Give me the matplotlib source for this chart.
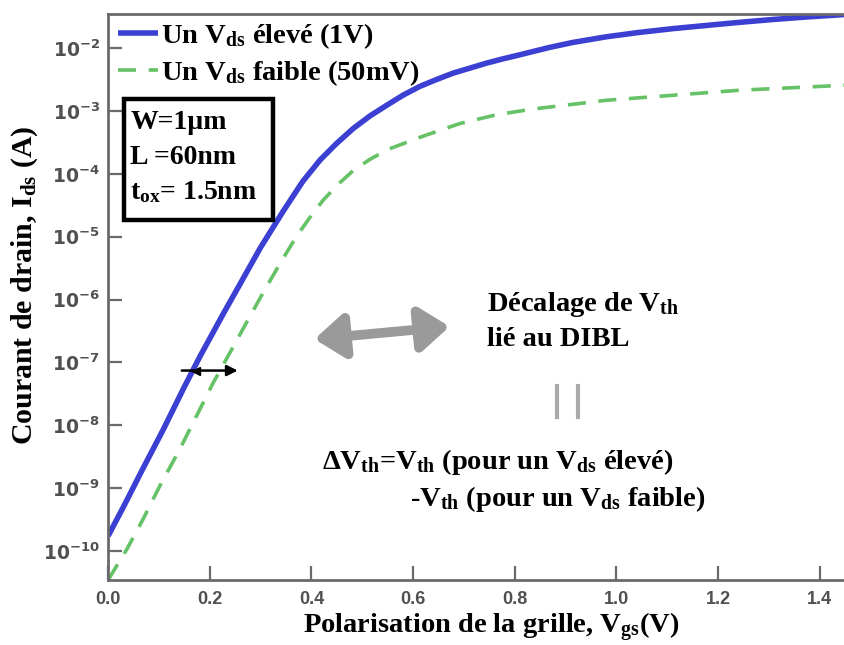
import numpy as np
import matplotlib
matplotlib.use("Agg")
import matplotlib.pyplot as plt
from matplotlib.patches import Rectangle
from matplotlib.ticker import FixedLocator, FuncFormatter

plt.rcParams['font.family'] = ['Liberation Serif', 'DejaVu Serif']
plt.rcParams['font.weight'] = 'bold'
plt.rcParams['mathtext.fontset'] = 'custom'
plt.rcParams['mathtext.rm'] = 'Liberation Serif:bold'
plt.rcParams['mathtext.it'] = 'Liberation Serif:bold'
plt.rcParams['mathtext.bf'] = 'Liberation Serif:bold'
plt.rcParams['mathtext.sf'] = 'DejaVu Sans:bold'

# Vgs (V) and log10(Ids)
vgs_high = [0.000, 0.030, 0.069, 0.109, 0.148, 0.181, 0.227, 0.266, 0.300, 0.344,
            0.383, 0.417, 0.449, 0.482, 0.515, 0.548, 0.580, 0.613, 0.646, 0.678,
            0.711, 0.744, 0.777, 0.803, 0.868, 0.914, 0.980, 1.045, 1.111, 1.176,
            1.242, 1.307, 1.373, 1.450]
log_ids_high = [-9.76, -9.30, -8.68, -8.06, -7.42, -6.90, -6.22, -5.66, -5.17, -4.60,
                -4.12, -3.78, -3.52, -3.28, -3.08, -2.91, -2.75, -2.61, -2.50, -2.40,
                -2.32, -2.24, -2.17, -2.12, -1.99, -1.91, -1.82, -1.75, -1.69, -1.64,
                -1.59, -1.545, -1.505, -1.465]

vgs_low = [0.000, 0.037, 0.069, 0.102, 0.141, 0.174, 0.207, 0.240, 0.272, 0.305,
           0.338, 0.371, 0.400, 0.423, 0.452, 0.482, 0.515, 0.551, 0.620, 0.692,
           0.764, 0.835, 0.980, 1.111, 1.242, 1.373, 1.450]
log_ids_low = [-10.46, -9.97, -9.49, -8.96, -8.38, -7.85, -7.32, -6.84, -6.37, -5.89,
               -5.43, -4.99, -4.66, -4.42, -4.17, -3.95, -3.77, -3.61, -3.40, -3.20,
               -3.06, -2.97, -2.83, -2.75, -2.67, -2.62, -2.59]

y_decades = [-10, -9, -8, -7, -6, -5, -4, -3, -2]
x_ticks = [0.0, 0.2, 0.4, 0.6, 0.8, 1.0, 1.2, 1.4]

ids_high = 10.0 ** np.array(log_ids_high)
ids_low = 10.0 ** np.array(log_ids_low)

fig = plt.figure(figsize=(8.45, 6.45), dpi=100)
ax = fig.add_axes([0.128, 0.101, 0.872, 0.877])

ax.plot(vgs_high, ids_high, color='#3c40d2', lw=4, solid_capstyle='butt',
        solid_joinstyle='round', label=r'Un V$_{\rm ds}$ élevé (1V)')
ax.plot(vgs_low, ids_low, color='#66c266', lw=2.6, dashes=(5, 3.5),
        label=r'Un V$_{\rm ds}$ faible (50mV)')

ax.set_yscale('log')
ax.set_xlim(0, 1.45)
ax.set_ylim(10 ** -10.46, 10 ** -1.46)
ax.yaxis.set_major_locator(FixedLocator([10.0 ** d for d in y_decades]))
ax.yaxis.set_minor_locator(FixedLocator([]))
ax.yaxis.set_major_formatter(FuncFormatter(
    lambda v, p: r'$\mathsf{10^{%d}}$' % round(np.log10(v))))
ax.set_xticks(x_ticks)
ax.set_xticklabels(['%.1f' % t for t in x_ticks], family='Liberation Sans',
                   fontsize=13, fontweight='bold', color='#505050')

for s in ['left', 'bottom', 'top']:
    ax.spines[s].set_color('#6a6a6a')
    ax.spines[s].set_linewidth(2)
ax.spines['right'].set_visible(False)
ax.tick_params(axis='both', direction='in', length=10, width=1.6, color='#6a6a6a',
               top=False, right=False)
ax.tick_params(axis='y', labelsize=13.5, labelcolor='#505050', pad=6)
ax.tick_params(axis='x', pad=8)

fig.text(491 / 845, 1 - 633 / 645, r'Polarisation de la grille, V$_{\rm gs}$(V)',
         fontsize=20.5, fontweight='bold', ha='center', va='baseline')
fig.text(25 / 845, 1 - 285 / 645, r'Courant de drain, I$_{\rm ds}$ (A)',
         fontsize=21.5, fontweight='bold', ha='center', va='center', rotation=90)

ax.legend(loc='upper left', bbox_to_anchor=(-0.006, 1.013), frameon=False,
          fontsize=20.5, handlelength=1.4, handletextpad=0.1, labelspacing=0.27,
          borderaxespad=0.2, borderpad=0.3)

# parameter box
ax.add_patch(Rectangle((0.0217, 0.636), 0.202, 0.214, transform=ax.transAxes,
                       fc='white', ec='black', lw=3.2, zorder=4))
box_lines = ['W=1µm', 'L =60nm', r't$_{\rm ox}$= 1.5nm']
box_y = [0.809, 0.747, 0.686]
for txt, yy in zip(box_lines, box_y):
    ax.text(0.0299, yy, txt, transform=ax.transAxes, fontsize=20,
            fontweight='bold', ha='left', va='center', zorder=5)

# DIBL annotations
ax.annotate('', xy=(0.672, 10 ** -6.43), xytext=(0.406, 10 ** -6.63),
            arrowprops=dict(arrowstyle='<|-|>,head_length=0.8,head_width=0.6',
                            color='#9a9a9a', lw=7, mutation_scale=22,
                            shrinkA=0, shrinkB=0))
ax.annotate('', xy=(0.255, 10 ** -7.13), xytext=(0.145, 10 ** -7.13),
            arrowprops=dict(arrowstyle='-|>', color='black', lw=1.8,
                            mutation_scale=16, shrinkA=0, shrinkB=0))
ax.plot([0.172], [10 ** -7.13], marker='<', color='black', ms=6)
ax.plot([0.884, 0.884], [10 ** -7.38, 10 ** -7.87], color='#aaaaaa', lw=3)
ax.plot([0.925, 0.925], [10 ** -7.38, 10 ** -7.87], color='#aaaaaa', lw=3)

ax.text(0.745, 10 ** -6.08, r'Décalage de V$_{\rm th}$', fontsize=20.5,
        fontweight='bold', ha='left', va='center')
ax.text(0.745, 10 ** -6.63, 'lié au DIBL', fontsize=20.5,
        fontweight='bold', ha='left', va='center')
ax.text(0.42, 10 ** -8.59, r'ΔV$_{\rm th}$=V$_{\rm th}$ (pour un V$_{\rm ds}$ élevé)',
        fontsize=20.5, fontweight='bold', ha='left', va='center')
ax.text(0.593, 10 ** -9.17, r'-V$_{\rm th}$ (pour un V$_{\rm ds}$ faible)',
        fontsize=20.5, fontweight='bold', ha='left', va='center')

fig.savefig('out.png', dpi=100)
